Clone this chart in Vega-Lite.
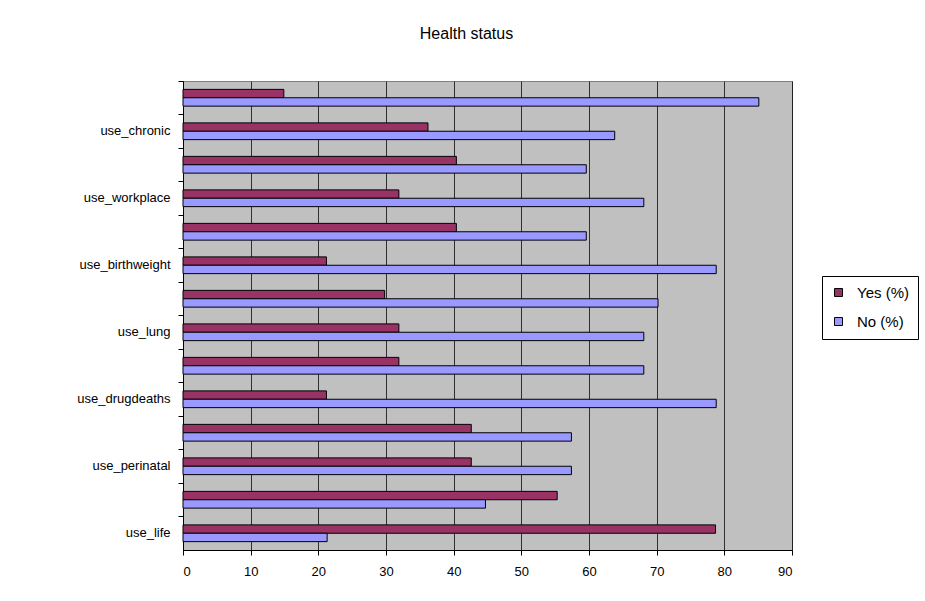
{
  "$schema": "https://vega.github.io/schema/vega-lite/v6.json",
  "width": 609,
  "height": 469,
  "autosize": {"type": "none"},
  "padding": {"left": 183, "top": 81, "right": 133, "bottom": 51},
  "background": "white",
  "title": {"text": "Health status", "fontSize": 16, "fontWeight": "normal", "font": "Liberation Sans", "color": "black", "anchor": "middle", "offset": 39, "dx": -21},
  "config": {
    "font": "Liberation Sans",
    "view": {"fill": "#C0C0C0", "stroke": "#808080", "strokeWidth": 1}
  },
  "data": {"values": [
    {"category": "use_life", "order": 1, "series": "Yes (%)", "value": 78.7},
    {"category": "use_life", "order": 1, "series": "No (%)", "value": 21.3},
    {"category": "cat02", "order": 2, "series": "Yes (%)", "value": 55.3},
    {"category": "cat02", "order": 2, "series": "No (%)", "value": 44.7},
    {"category": "use_perinatal", "order": 3, "series": "Yes (%)", "value": 42.6},
    {"category": "use_perinatal", "order": 3, "series": "No (%)", "value": 57.4},
    {"category": "cat04", "order": 4, "series": "Yes (%)", "value": 42.6},
    {"category": "cat04", "order": 4, "series": "No (%)", "value": 57.4},
    {"category": "use_drugdeaths", "order": 5, "series": "Yes (%)", "value": 21.2},
    {"category": "use_drugdeaths", "order": 5, "series": "No (%)", "value": 78.8},
    {"category": "cat06", "order": 6, "series": "Yes (%)", "value": 31.9},
    {"category": "cat06", "order": 6, "series": "No (%)", "value": 68.1},
    {"category": "use_lung", "order": 7, "series": "Yes (%)", "value": 31.9},
    {"category": "use_lung", "order": 7, "series": "No (%)", "value": 68.1},
    {"category": "cat08", "order": 8, "series": "Yes (%)", "value": 29.8},
    {"category": "cat08", "order": 8, "series": "No (%)", "value": 70.2},
    {"category": "use_birthweight", "order": 9, "series": "Yes (%)", "value": 21.2},
    {"category": "use_birthweight", "order": 9, "series": "No (%)", "value": 78.8},
    {"category": "cat10", "order": 10, "series": "Yes (%)", "value": 40.4},
    {"category": "cat10", "order": 10, "series": "No (%)", "value": 59.6},
    {"category": "use_workplace", "order": 11, "series": "Yes (%)", "value": 31.9},
    {"category": "use_workplace", "order": 11, "series": "No (%)", "value": 68.1},
    {"category": "cat12", "order": 12, "series": "Yes (%)", "value": 40.4},
    {"category": "cat12", "order": 12, "series": "No (%)", "value": 59.6},
    {"category": "use_chronic", "order": 13, "series": "Yes (%)", "value": 36.2},
    {"category": "use_chronic", "order": 13, "series": "No (%)", "value": 63.8},
    {"category": "cat14", "order": 14, "series": "Yes (%)", "value": 14.9},
    {"category": "cat14", "order": 14, "series": "No (%)", "value": 85.1}
  ]},
  "mark": {"type": "bar", "stroke": "black", "strokeWidth": 1},
  "encoding": {
    "y": {
      "field": "category", "type": "nominal",
      "sort": {"field": "order", "op": "max", "order": "descending"},
      "scale": {"paddingInner": 0, "paddingOuter": 0},
      "axis": {
        "title": null,
        "labelExpr": "indexof(datum.value, 'use_') == 0 ? datum.value : ''",
        "labelFontSize": 13, "labelColor": "black", "labelFont": "Liberation Sans",
        "labelPadding": 8,
        "bandPosition": 0,
        "tickColor": "black", "tickSize": 5,
        "domainColor": "black", "grid": false
      }
    },
    "yOffset": {"field": "series", "type": "nominal", "scale": {"domain": ["Yes (%)", "No (%)"], "paddingInner": 0, "paddingOuter": 1}},
    "x": {
      "field": "value", "type": "quantitative",
      "scale": {"domain": [0, 90], "nice": false},
      "axis": {
        "title": null, "values": [0,10,20,30,40,50,60,70,80,90],
        "labelFontSize": 13, "labelColor": "black", "labelFont": "Liberation Sans",
        "labelPadding": 10,
        "tickColor": "black", "tickSize": 5,
        "domainColor": "black",
        "grid": true, "gridColor": "#000000", "gridOpacity": 0.75, "gridWidth": 1
      }
    },
    "fill": {
      "field": "series", "type": "nominal",
      "scale": {"domain": ["Yes (%)", "No (%)"], "range": ["#993366", "#9999FF"]},
      "legend": {
        "title": null, "orient": "none", "legendX": 639, "legendY": 195,
        "symbolType": "square", "symbolSize": 64, "symbolStrokeColor": "black", "symbolStrokeWidth": 1,
        "labelFontSize": 15, "labelColor": "black", "labelFont": "Liberation Sans",
        "strokeColor": "black", "fillColor": "white", "padding": 9,
        "rowPadding": 13, "labelOffset": 11
      }
    }
  }
}
